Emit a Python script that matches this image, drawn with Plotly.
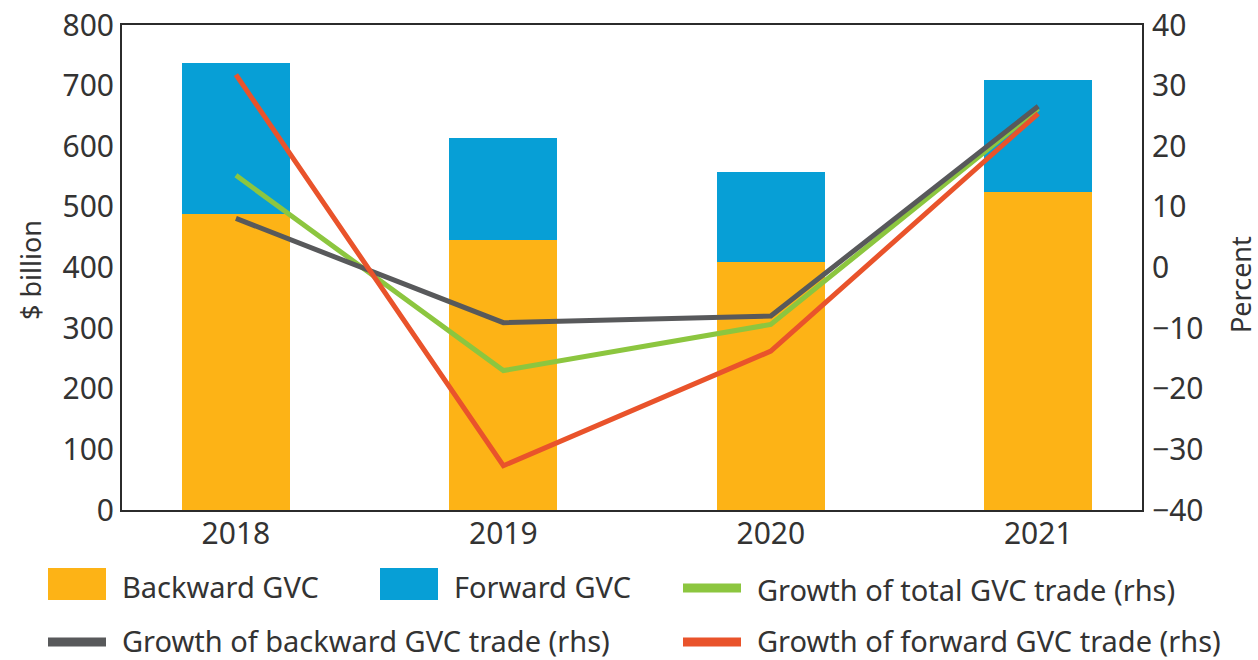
import plotly.graph_objects as go

years = ["2018", "2019", "2020", "2021"]
backward_gvc = [488, 445, 409, 525]
forward_gvc = [250, 168, 149, 184]
growth_total = [15.2, -17.0, -9.4, 26.2]
growth_backward = [8.1, -9.1, -8.0, 26.6]
growth_forward = [31.8, -32.7, -13.8, 25.4]

names = ["Backward GVC", "Forward GVC", "Growth of total GVC trade (rhs)",
         "Growth of backward GVC trade (rhs)", "Growth of forward GVC trade (rhs)"]
colors = ["#FDB316", "#079FD6", "#8CC63F", "#58595B", "#E9532B"]

FONT = "Noto Sans"
TXT = "#333333"

fig = go.Figure()
fig.add_trace(go.Bar(x=years, y=backward_gvc, name=names[0], marker_color=colors[0],
                     marker_line_width=0, width=0.404, showlegend=False))
fig.add_trace(go.Bar(x=years, y=forward_gvc, name=names[1], marker_color=colors[1],
                     marker_line_width=0, width=0.404, showlegend=False))
fig.add_trace(go.Scatter(x=years, y=growth_total, name=names[2], mode="lines",
                         line=dict(color=colors[2], width=5), yaxis="y2", showlegend=False))
fig.add_trace(go.Scatter(x=years, y=growth_backward, name=names[3], mode="lines",
                         line=dict(color=colors[3], width=5), yaxis="y2", showlegend=False))
fig.add_trace(go.Scatter(x=years, y=growth_forward, name=names[4], mode="lines",
                         line=dict(color=colors[4], width=5), yaxis="y2", showlegend=False))

W, H = 1258, 660
L, R, T, B = 122, 116, 25, 150
pw, ph = W - L - R, H - T - B

def px(x):
    return (x - L) / pw

def py(y):
    return (H - B - y) / ph

shapes = []
annotations = []
# (series index, symbol kind, left x px, symbol centre y px, text centre y px)
legend_items = [
    (0, "box", 48, 584, 587), (1, "box", 380, 584, 587), (2, "line", 683, 588, 589),
    (3, "line", 48, 642, 640), (4, "line", 683, 642, 640),
]
for idx, kind, x0, yc, ty in legend_items:
    half = 16 if kind == "box" else 4.5
    shapes.append(dict(type="rect", xref="paper", yref="paper",
                       x0=px(x0), x1=px(x0 + 58), y0=py(yc + half), y1=py(yc - half),
                       fillcolor=colors[idx], line_width=0))
    annotations.append(dict(text=names[idx], xref="paper", yref="paper",
                            x=px(x0 + 72), y=py(ty), xanchor="left", yanchor="middle",
                            showarrow=False, font=dict(family=FONT, size=29, color=TXT)))

annotations.append(dict(text="$ billion", xref="paper", yref="paper", x=px(30), y=py(270),
                        textangle=-90, showarrow=False, xanchor="center", yanchor="middle",
                        font=dict(family=FONT, size=27, color=TXT)))
annotations.append(dict(text="Percent", xref="paper", yref="paper", x=px(1240), y=py(285),
                        textangle=-90, showarrow=False, xanchor="center", yanchor="middle",
                        font=dict(family=FONT, size=27, color=TXT)))

fig.update_layout(
    width=W, height=H,
    margin=dict(l=L, r=R, t=T, b=B, pad=0, autoexpand=False),
    barmode="stack",
    plot_bgcolor="white", paper_bgcolor="white",
    font=dict(family=FONT, size=30, color=TXT),
    xaxis=dict(type="category", range=[-0.426, 3.388], showgrid=False, zeroline=False,
               showline=True, linecolor="#2b2b2b", linewidth=2, mirror=True,
               ticks="", ticklabelstandoff=-4, automargin=False,
               tickfont=dict(family=FONT, size=30, color=TXT)),
    yaxis=dict(range=[0, 800], dtick=100, showgrid=False, zeroline=False,
               showline=True, linecolor="#2b2b2b", linewidth=2, mirror=True,
               ticks="", ticklabelstandoff=0, automargin=False,
               tickfont=dict(family=FONT, size=30, color=TXT)),
    yaxis2=dict(range=[-40, 40], dtick=10, overlaying="y", side="right",
                showgrid=False, zeroline=False, showline=False, ticks="",
                ticklabelstandoff=9, automargin=False,
                tickfont=dict(family=FONT, size=30, color=TXT)),
    shapes=shapes, annotations=annotations, showlegend=False,
)

fig.write_html("out.html", config={"displayModeBar": False}, post_script=(
    "document.body.style.margin='0';document.body.style.padding='0';"
    "document.body.style.overflow='hidden';"
    "document.documentElement.style.overflow='hidden';"))
